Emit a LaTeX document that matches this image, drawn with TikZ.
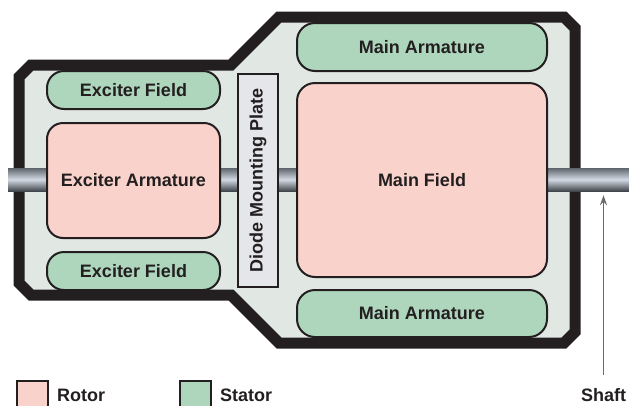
\documentclass[tikz,border=0pt]{standalone}
\usepackage{fontspec}
\setmainfont{Liberation Sans}
\usetikzlibrary{arrows.meta}
\definecolor{ink}{HTML}{231F20}
\definecolor{rotorc}{HTML}{F9D3CB}
\definecolor{statorc}{HTML}{AED6BC}
\definecolor{housingc}{HTML}{E1E8E4}
\definecolor{platec}{HTML}{E5E6EA}
\definecolor{shafttop}{HTML}{5F656C}
\definecolor{shaftmid}{HTML}{D2D9E3}
\definecolor{shaftbot}{HTML}{41464C}
\definecolor{arrowc}{HTML}{6B6B6B}
\tikzset{
  lbl/.style={font=\fontsize{18}{20}\selectfont\bfseries, text=ink},
  rotorbox/.style={lbl, draw=ink, line width=2pt, fill=rotorc, rounded corners=16pt, inner sep=0pt},
  statorbox/.style={lbl, draw=ink, line width=2pt, fill=statorc, rounded corners=17pt, inner sep=0pt},
  platebox/.style={lbl, draw=ink, line width=2.5pt, fill=platec, inner sep=0pt},
  shaftbar/.style={draw=none, top color=shafttop, bottom color=shaftbot, middle color=shaftmid, inner sep=0pt},
  legendbox/.style={draw=ink, line width=2pt, inner sep=0pt, minimum width=31pt, minimum height=31pt},
  housing/.style={draw=ink, fill=housingc, line width=11pt, line join=miter},
  pointer/.style={draw=arrowc, line width=1.5pt, -{Stealth[length=10pt,width=7pt]}}
}
\begin{document}
\begin{tikzpicture}[x=1pt,y=-1pt]
\useasboundingbox (0,0) rectangle (629,405);
% housing
\path[housing] (19,77) -- (31,65) -- (231,65) -- (279,17) -- (564,17) -- (575,28)
  -- (575,332) -- (564,343) -- (279,343) -- (231,295) -- (31,295) -- (19,283) -- cycle;
% shaft
\node[shaftbar, anchor=west, minimum width=640pt, minimum height=23pt] (shaft) at (8,179.5) {};
% exciter
\node[statorbox, minimum width=173pt, minimum height=38pt] (exf1) at (133.5,90) {Exciter Field};
\node[rotorbox, minimum width=173pt, minimum height=115pt] (exa) at (133.5,180.5) {Exciter Armature};
\node[statorbox, minimum width=173pt, minimum height=38pt] (exf2) at (133.5,271) {Exciter Field};
% diode plate
\node[platebox, minimum width=40pt, minimum height=213pt] (plate) at (258,180.5) {};
\node[lbl, rotate=90] (platetxt) at (plate.center) {Diode Mounting Plate};
% main
\node[statorbox, rounded corners=18pt, minimum width=250pt, minimum height=48pt] (ma1) at (422,47) {Main Armature};
\node[rotorbox, rounded corners=18pt, minimum width=250pt, minimum height=194pt] (mf) at (422,180) {Main Field};
\node[statorbox, rounded corners=18pt, minimum width=250pt, minimum height=47pt] (ma2) at (422,313.5) {Main Armature};
% shaft pointer
\node[lbl, anchor=base, inner sep=0pt] (shaftlbl) at (603.5,401) {Shaft};
\draw[pointer, shorten <=13pt, shorten >=4pt] (shaftlbl.north) -- (shaftlbl.north |- shaft.south);
% legend
\node[legendbox, fill=rotorc] (legrotor) at (32.5,396.5) {};
\node[lbl, anchor=base west, inner sep=0pt] (legrotortxt) at (57,401) {Rotor};
\node[legendbox, fill=statorc] (legstator) at (195.5,396.5) {};
\node[lbl, anchor=base west, inner sep=0pt] (legstatortxt) at (220,401) {Stator};
\end{tikzpicture}
\end{document}
